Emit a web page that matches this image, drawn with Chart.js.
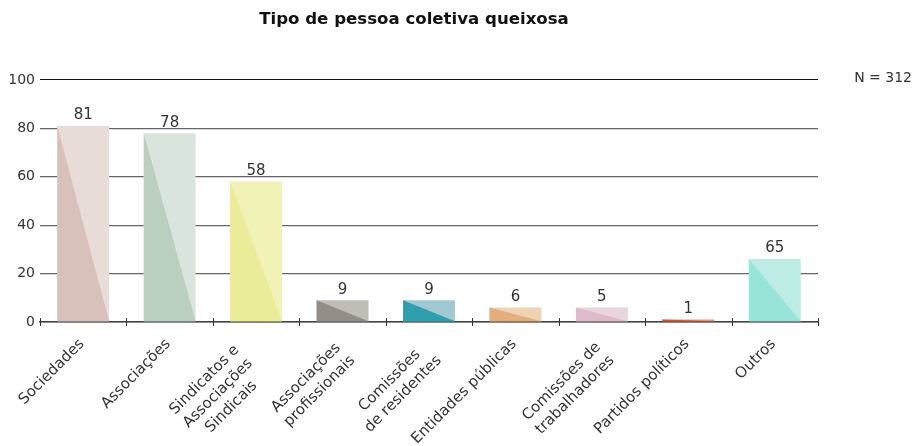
<!DOCTYPE html>
<html>
<head>
<meta charset="utf-8">
<script src="https://cdn.jsdelivr.net/npm/chart.js@4"></script>
<style>
  html, body { margin: 0; padding: 0; background: #fff; }
  #wrap { width: 923px; height: 446px; position: relative; }
</style>
</head>
<body>
<div id="wrap"><canvas id="barChart"></canvas></div>
<script>
// chart data
const chartTitle = 'Tipo de pessoa coletiva queixosa';
const totalLabel = 'N = 312';
const categories = [
    ['Sociedades'],
    ['Associações'],
    ['Sindicatos e', 'Associações', 'Sindicais'],
    ['Associações', 'profissionais'],
    ['Comissões', 'de residentes'],
    ['Entidades públicas'],
    ['Comissões de', 'trabalhadores'],
    ['Partidos políticos'],
    ['Outros']
];
const barValues = [81, 78, 58, 9, 9, 6, 6, 1, 26];
const valueLabels = ['81', '78', '58', '9', '9', '6', '5', '1', '65'];
const yTicks = [0, 20, 40, 60, 80, 100];
const lightColors = ['#E8DCD8', '#D9E4DD', '#F1F2B6', '#C0BCB6', '#A1C9D1', '#EFD3B3', '#E9D4DE', '#E8977F', '#BDECE5'];
const darkColors = ['#D8C1BA', '#BBCFC1', '#EAEC99', '#938E88', '#2F9FAD', '#E4AF7D', '#DEBACB', '#E0521C', '#98E4D8'];

const fontFamily = '"DejaVu Sans", sans-serif';
Chart.defaults.font.family = fontFamily;
Chart.defaults.color = '#333';

// where the top-right corner of a rotated label block sits, by number of lines
const labelAnchor = { 1: [-8, 13], 2: [-10, 16], 3: [-26, 19] };

// dark triangle on each bar + value labels + category labels + N
const decorPlugin = {
    id: 'decor',
    afterDatasetsDraw(chart) {
        const ctx = chart.ctx;
        const meta = chart.getDatasetMeta(0);
        meta.data.forEach((bar, i) => {
            const { x, y, base, width } = bar.getProps(['x', 'y', 'base', 'width'], true);
            const x0 = x - width / 2, x1 = x + width / 2;
            ctx.save();
            ctx.fillStyle = darkColors[i];
            ctx.beginPath();
            ctx.moveTo(x0, y);
            ctx.lineTo(x0, base);
            ctx.lineTo(x1, base);
            ctx.closePath();
            ctx.fill();
            ctx.fillStyle = '#333';
            ctx.font = '15px ' + fontFamily;
            ctx.textAlign = 'center';
            ctx.textBaseline = 'bottom';
            ctx.fillText(valueLabels[i], x, y - 3);
            ctx.restore();
        });
    },
    afterDraw(chart) {
        const ctx = chart.ctx;
        const xs = chart.scales.x;
        const lh = 19;
        ctx.save();
        ctx.fillStyle = '#333';
        ctx.font = '15px ' + fontFamily;
        categories.forEach((lines, i) => {
            const x = xs.getPixelForValue(i);
            const w = Math.max(...lines.map(l => ctx.measureText(l).width));
            const [ax, ay] = labelAnchor[lines.length];
            ctx.save();
            ctx.translate(x + ax, xs.top + ay);
            ctx.rotate(-Math.PI / 4);
            ctx.textAlign = 'center';
            ctx.textBaseline = 'middle';
            lines.forEach((l, j) => ctx.fillText(l, -w / 2, (j + 0.5) * lh));
            ctx.restore();
        });
        // axis ticks crossing the baseline
        const step = (xs.right - xs.left) / categories.length;
        ctx.strokeStyle = '#333';
        ctx.lineWidth = 1;
        for (let i = 0; i <= categories.length; i++) {
            const px = Math.round(xs.left + i * step) + 0.5;
            ctx.beginPath();
            ctx.moveTo(px, xs.top - 4);
            ctx.lineTo(px, xs.top + 4);
            ctx.stroke();
        }
        ctx.font = '14px ' + fontFamily;
        ctx.textAlign = 'right';
        ctx.textBaseline = 'middle';
        ctx.fillText(totalLabel, chart.width - 11, chart.scales.y.getPixelForValue(100) - 2);
        ctx.restore();
    }
};

new Chart(document.getElementById('barChart'), {
    type: 'bar',
    data: {
        labels: categories,
        datasets: [{
            data: barValues,
            backgroundColor: lightColors,
            borderWidth: 0,
            barPercentage: 0.6,
            categoryPercentage: 1
        }]
    },
    options: {
        responsive: true,
        maintainAspectRatio: false,
        animation: false,
        layout: { padding: { left: 10, right: 105, top: 0, bottom: 0 } },
        plugins: {
            legend: { display: false },
            tooltip: { enabled: false },
            title: {
                display: true,
                text: chartTitle,
                color: '#111',
                font: { size: 16.6, weight: 'bold' },
                padding: { top: 10, bottom: 50 }
            }
        },
        scales: {
            x: {
                grid: { display: false },
                border: { display: true, color: '#444', width: 1.5 },
                ticks: { display: false },
                afterFit: s => { s.height = 124; }
            },
            y: {
                min: 0,
                max: 100,
                afterBuildTicks: s => { s.ticks = yTicks.map(v => ({ value: v })); },
                border: { display: false },
                grid: {
                    drawTicks: false,
                    color: c => c.tick.value === 100 ? '#111' : (c.tick.value === 0 ? '#444' : '#666'),
                    lineWidth: c => c.tick.value === 100 ? 1 : 1.3
                },
                ticks: { font: { size: 14 }, color: '#333', padding: 5 },
                afterFit: s => { s.width = 30; }
            }
        }
    },
    plugins: [decorPlugin]
});
</script>
</body>
</html>
